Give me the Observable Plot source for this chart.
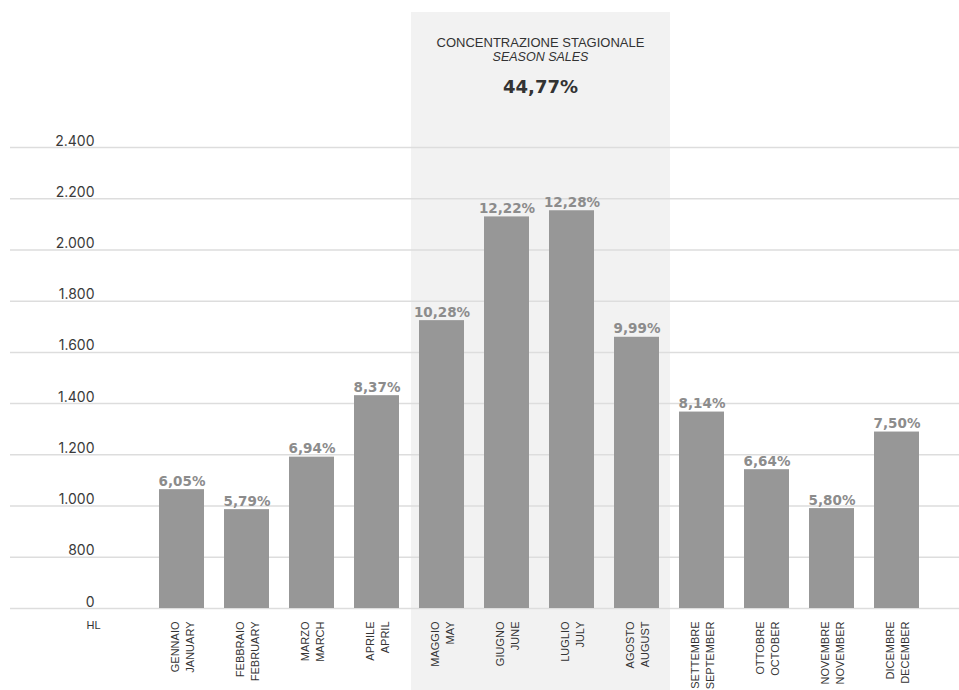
<!DOCTYPE html>
<html>
<head>
<meta charset="utf-8">
<script src="https://cdn.jsdelivr.net/npm/d3@7"></script>
<script src="https://cdn.jsdelivr.net/npm/@observablehq/plot@0.6"></script>
<style>
  html, body { margin: 0; padding: 0; background: #ffffff; }
  #chart svg { display: block; }
</style>
</head>
<body>
<div id="chart"></div>
<script>
// ---- Data ----
const monthsIt = ["GENNAIO", "FEBBRAIO", "MARZO", "APRILE", "MAGGIO", "GIUGNO",
                  "LUGLIO", "AGOSTO", "SETTEMBRE", "OTTOBRE", "NOVEMBRE", "DICEMBRE"];
const monthsEn = ["JANUARY", "FEBRUARY", "MARCH", "APRIL", "MAY", "JUNE",
                  "JULY", "AUGUST", "SEPTEMBER", "OCTOBER", "NOVEMBER", "DECEMBER"];
const volumesHL = [1064, 986, 1191, 1431, 1724, 2129, 2153, 1659, 1367, 1142, 990, 1289];
const sharePct = [6.05, 5.79, 6.94, 8.37, 10.28, 12.22, 12.28, 9.99, 8.14, 6.64, 5.80, 7.50];
const seasonMonths = ["MAGGIO", "GIUGNO", "LUGLIO", "AGOSTO"];
const seasonTitle = "CONCENTRAZIONE STAGIONALE";
const seasonSubtitle = "SEASON SALES";
const seasonShare = 44.77;
const yTicks = [0, 800, 1000, 1200, 1400, 1600, 1800, 2000, 2200, 2400];
const unitLabel = "HL";

// ---- Layout ----
const W = 959, H = 690;
const plotTop = 147, plotBottom = 608;
const tickStep = (plotBottom - plotTop) / (yTicks.length - 1);

const rows = monthsIt.map((m, i) => ({it: m, en: monthsEn[i], v: volumesHL[i], p: sharePct[i]}));
const fmtNum = d => d3.format(",")(d).replace(/,/g, ".");
const fmtPct = p => p.toFixed(2).replace(".", ",") + "%";

const pctFont = "'DejaVu Sans', Verdana, sans-serif";

function seasonBand(index, scales, values, dims) {
  const x = scales.x;
  const bw = x.bandwidth ? x.bandwidth() : 45;
  const st = x.step ? x.step() : 65;
  const x0 = x(seasonMonths[0]) - (st - bw) / 2 + 2;
  const x1 = x(seasonMonths[seasonMonths.length - 1]) + bw + (st - bw) / 2 + 1;
  const cx = (x0 + x1) / 2;
  const g = d3.create("svg:g");
  g.append("rect")
    .attr("x", x0).attr("y", 12)
    .attr("width", x1 - x0).attr("height", dims.height - 12)
    .attr("fill", "#f2f2f2");
  g.append("text")
    .attr("x", cx).attr("y", 47)
    .attr("text-anchor", "middle")
    .attr("font-family", "'Liberation Sans', Arial, sans-serif")
    .attr("font-size", 13)
    .attr("fill", "#333")
    .text(seasonTitle);
  g.append("text")
    .attr("x", cx).attr("y", 61)
    .attr("text-anchor", "middle")
    .attr("font-family", "'Liberation Sans', Arial, sans-serif")
    .attr("font-style", "italic")
    .attr("font-size", 12.5)
    .attr("fill", "#333")
    .text(seasonSubtitle);
  g.append("text")
    .attr("x", cx).attr("y", 93)
    .attr("text-anchor", "middle")
    .attr("font-family", pctFont)
    .attr("font-weight", "bold")
    .attr("font-size", 18)
    .attr("fill", "#333")
    .text(fmtPct(seasonShare));
  return g.node();
}

const chart = Plot.plot({
  width: W,
  height: H,
  marginLeft: 10,
  marginRight: 0,
  marginTop: plotTop,
  marginBottom: H - plotBottom,
  style: {fontFamily: "'Liberation Sans', Arial, sans-serif", background: "#ffffff"},
  x: {
    type: "band",
    domain: monthsIt,
    range: [136.5, 940.5],
    padding: 0.311,
    axis: null
  },
  y: {
    type: "linear",
    domain: [0, 800, 2400],
    range: [plotBottom, plotBottom - tickStep, plotTop],
    axis: null
  },
  marks: [
    seasonBand,
    Plot.ruleY(yTicks, {y: d => d, stroke: "#dddddd", strokeWidth: 1.5}),
    Plot.text(yTicks, {
      y: d => d, text: fmtNum, frameAnchor: "left", textAnchor: "end",
      lineAnchor: "bottom", dx: 84, dy: -2,
      fontFamily: "Inter, 'Liberation Sans', sans-serif", fontSize: 14, fill: "#3a3a3a"
    }),
    Plot.barY(rows, {x: "it", y1: 0, y2: "v", fill: "#979797"}),
    Plot.text(rows, {
      x: "it", y: "v", text: d => fmtPct(d.p), lineAnchor: "bottom", dy: -4,
      fontFamily: pctFont, fontWeight: "bold", fontSize: 13.5, fill: "#8c8c8c"
    }),
    Plot.text(rows, {
      x: "it", text: d => d.it + "\n" + d.en, frameAnchor: "bottom",
      rotate: -90, textAnchor: "end", lineAnchor: "middle", lineHeight: 1.3,
      dy: 13, fontSize: 11, fill: "#333"
    }),
    Plot.text([unitLabel], {
      text: d => d, frameAnchor: "bottom-left", textAnchor: "middle", dx: 83, dy: 20,
      fontSize: 11, fill: "#333"
    })
  ]
});

document.getElementById("chart").appendChild(chart);
</script>
</body>
</html>
